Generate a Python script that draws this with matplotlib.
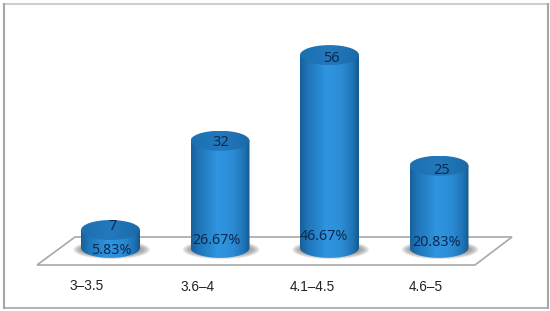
import numpy as np
import matplotlib
matplotlib.use("Agg")
import matplotlib.pyplot as plt
from matplotlib.patches import Ellipse, Polygon, PathPatch
from matplotlib.path import Path
from matplotlib.colors import LinearSegmentedColormap

categories = ["3–3.5", "3.6–4", "4.1–4.5", "4.6–5"]
counts = [7, 32, 56, 25]
percents = ["5.83%", "26.67%", "46.67%", "20.83%"]

W, H = 550, 311
fig = plt.figure(figsize=(W / 100, H / 100), dpi=100, facecolor="white")
ax = fig.add_axes([0, 0, 1, 1])

# data scale: x = category index, y = count
X0, DX = 110.5, 109.5
Y0, DY = 255.0, 3.57
ax.set_xlim((0 - X0) / DX, (W - X0) / DX)
ax.set_ylim((Y0 - H) / DY, Y0 / DY)
ax.axis("off")

def xd(px): return (px - X0) / DX
def yd(py): return (Y0 - py) / DY

# outer frame
L, R, T, B = 3.5, 547.5, 3.5, 307.5
for (x1, y1, x2, y2, col) in [(L, T, R, T, "#cfcfcf"), (L, B, R, B, "#b4b4b4"),
                              (L, T, L, B, "#a6a6a6"), (R, T, R, B, "#a6a6a6")]:
    ax.plot([xd(x1), xd(x2)], [yd(y1), yd(y2)], color=col, lw=1.5, zorder=0, solid_capstyle="projecting")
# floor
floor = [(37, 265), (75, 237), (512, 237), (475, 265)]
ax.add_patch(Polygon([(xd(a), yd(b)) for a, b in floor], closed=True,
                     fc="white", ec="#a8a8a8", lw=1.2, zorder=1))

body = LinearSegmentedColormap.from_list("b", [(0, "#17609a"), (0.12, "#1f74b6"), (0.45, "#2f95e0"),
                                               (0.7, "#2c8dd6"), (0.9, "#1f74b6"), (1, "#16598f")])
cap = LinearSegmentedColormap.from_list("c", ["#1d70b0", "#2279bd", "#1b6aa8"])

half_w = 29.5 / DX
ell_h = 20 / DY
base = 2.0

count_px = [(113, 226), (221, 142), (331, 59), (442, 171)]
pct_px = [(111, 251), (217, 241), (324, 237), (437, 242)]

for i, (v, p) in enumerate(zip(counts, percents)):
    # soft shadow on the floor
    for k in range(6):
        ax.add_patch(Ellipse((i + 0.01, base - 0.5), 2 * half_w * (1.30 - 0.05 * k), ell_h * (0.95 - 0.08 * k),
                             fc="#707070", ec="none", alpha=0.15, zorder=2))
    # body gradient clipped to cylinder outline
    n = 60
    t = np.linspace(0, np.pi, n)
    xs_bot = i - half_w * np.cos(t)
    ys_bot = base - ell_h / 2 * np.sin(t)
    verts = list(zip(xs_bot, ys_bot)) + [(i + half_w, v), (i - half_w, v)]
    clip = PathPatch(Path(verts + [verts[0]]), transform=ax.transData, fc="none", ec="none")
    ax.add_patch(clip)
    im = ax.imshow(np.linspace(0, 1, 128)[None, :], cmap=body, aspect="auto", zorder=3,
                   extent=(i - half_w, i + half_w, base - ell_h, v), interpolation="bilinear")
    im.set_clip_path(clip)
    # top cap
    top = Ellipse((i, v), 2 * half_w, ell_h, fc="none", ec="none", transform=ax.transData)
    ax.add_patch(top)
    im2 = ax.imshow(np.linspace(0, 1, 64)[None, :], cmap=cap, aspect="auto", zorder=4,
                    extent=(i - half_w, i + half_w, v - ell_h / 2, v + ell_h / 2), interpolation="bilinear")
    im2.set_clip_path(top)
    # labels
    ax.text(xd(count_px[i][0]), yd(count_px[i][1]), str(v), ha="center", va="center", fontsize=10.5,
            family="Noto Sans", color="#0d2a50", zorder=6)
    ax.text(xd(pct_px[i][0]), yd(pct_px[i][1]), p, ha="center", va="center", fontsize=10.3,
            family="Noto Sans", color="#0d2a50", zorder=6)

cat_px = [(87, 285.5), (198, 287), (312, 287), (426, 287)]
for (px, py), c in zip(cat_px, categories):
    ax.text(xd(px), yd(py), c, ha="center", va="center", fontsize=9.8,
            family="Liberation Sans", color="#222222", zorder=6)

ax.set_xlim((0 - X0) / DX, (W - X0) / DX)
ax.set_ylim((Y0 - H) / DY, Y0 / DY)
fig.savefig("out.png", dpi=100, facecolor="white")
